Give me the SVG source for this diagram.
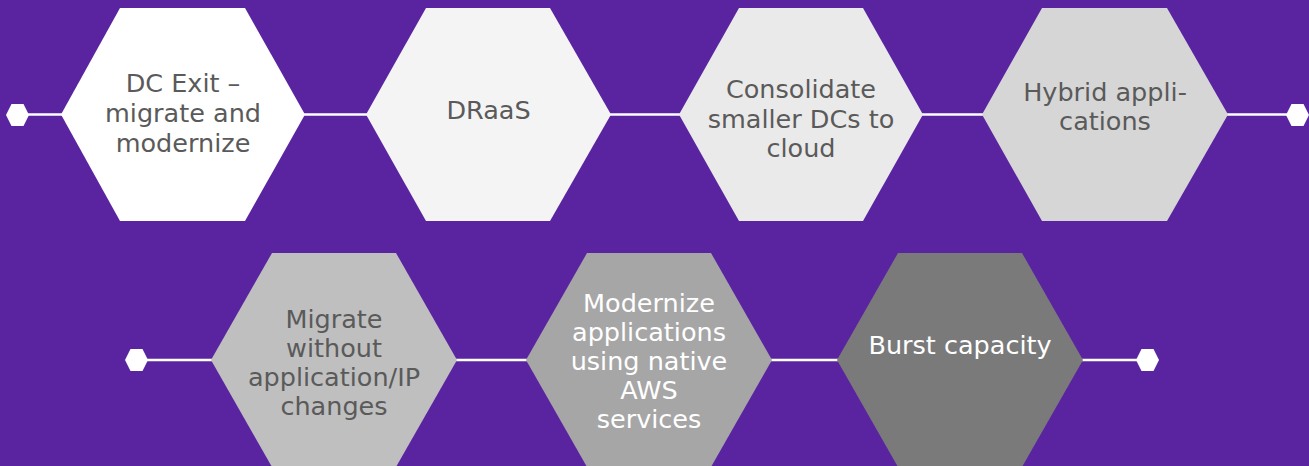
<svg xmlns="http://www.w3.org/2000/svg" width="1309" height="466" viewBox="0 0 1309 466">
<style>
.t{font-family:"DejaVu Sans","Liberation Sans",sans-serif;font-size:25.5px;text-anchor:middle;fill:#5a5a5a}
.w{fill:#ffffff}
.c{stroke:#ffffff;stroke-width:2.5;fill:none}
.dot{fill:#ffffff}
</style>
<rect x="0" y="0" width="1309" height="466" fill="#5A24A0"/>
<g id="connectors">
<line class="c" x1="20" y1="114.5" x2="62" y2="114.5"/>
<line class="c" x1="304" y1="114.5" x2="367" y2="114.5"/>
<line class="c" x1="610" y1="114.5" x2="680" y2="114.5"/>
<line class="c" x1="922" y1="114.5" x2="983" y2="114.5"/>
<line class="c" x1="1227" y1="114.5" x2="1295" y2="114.5"/>
<line class="c" x1="140" y1="360" x2="212" y2="360"/>
<line class="c" x1="456" y1="360" x2="527" y2="360"/>
<line class="c" x1="771" y1="360" x2="838" y2="360"/>
<line class="c" x1="1082" y1="360" x2="1145" y2="360"/>
<polygon class="dot" points="6,115 11.5,104 23.5,104 29,115 23.5,126 11.5,126"/>
<polygon class="dot" points="1286,115 1291.5,104 1303.5,104 1309,115 1303.5,126 1291.5,126"/>
<polygon class="dot" points="125,360 130.5,349 142.5,349 148,360 142.5,371 130.5,371"/>
<polygon class="dot" points="1136,360 1141.5,349 1153.5,349 1159,360 1153.5,371 1141.5,371"/>
</g>
<g id="node1">
<polygon points="61,114.5 120,8 245,8 305,114.5 245,221 120,221" fill="#FFFFFF"/>
<text class="t" x="183" y="92">DC Exit –</text>
<text class="t" x="183" y="122">migrate and</text>
<text class="t" x="183" y="152">modernize</text>
</g>
<g id="node2">
<polygon points="366,114.5 426,8 550,8 611,114.5 550,221 426,221" fill="#F4F4F4"/>
<text class="t" x="488.5" y="119.3">DRaaS</text>
</g>
<g id="node3">
<polygon points="679,114.5 739,8 863,8 923,114.5 863,221 739,221" fill="#EAEAEA"/>
<text class="t" x="801" y="98.3">Consolidate</text>
<text class="t" x="801" y="127.8">smaller DCs to</text>
<text class="t" x="801" y="157">cloud</text>
</g>
<g id="node4">
<polygon points="982,114.5 1042,8 1167,8 1228,114.5 1167,221 1042,221" fill="#D6D6D6"/>
<text class="t" x="1105" y="100.7">Hybrid appli-</text>
<text class="t" x="1105" y="129.5">cations</text>
</g>
<g id="node5">
<polygon points="211,360 272,253 396,253 457,360 396,467 272,467" fill="#BFBFBF"/>
<text class="t" x="334" y="328.4">Migrate</text>
<text class="t" x="334" y="357.3">without</text>
<text class="t" x="334" y="386.2">application/IP</text>
<text class="t" x="334" y="415.1">changes</text>
</g>
<g id="node6">
<polygon points="526,360 587,253 711,253 772,360 711,467 587,467" fill="#A6A6A6"/>
<text class="t w" x="649" y="312.3">Modernize</text>
<text class="t w" x="649" y="341.2">applications</text>
<text class="t w" x="649" y="370.1">using native</text>
<text class="t w" x="649" y="399">AWS</text>
<text class="t w" x="649" y="428">services</text>
</g>
<g id="node7">
<polygon points="837,360 898,253 1022,253 1083,360 1022,467 898,467" fill="#7A7A7A"/>
<text class="t w" x="960" y="354.3">Burst capacity</text>
</g>
</svg>
